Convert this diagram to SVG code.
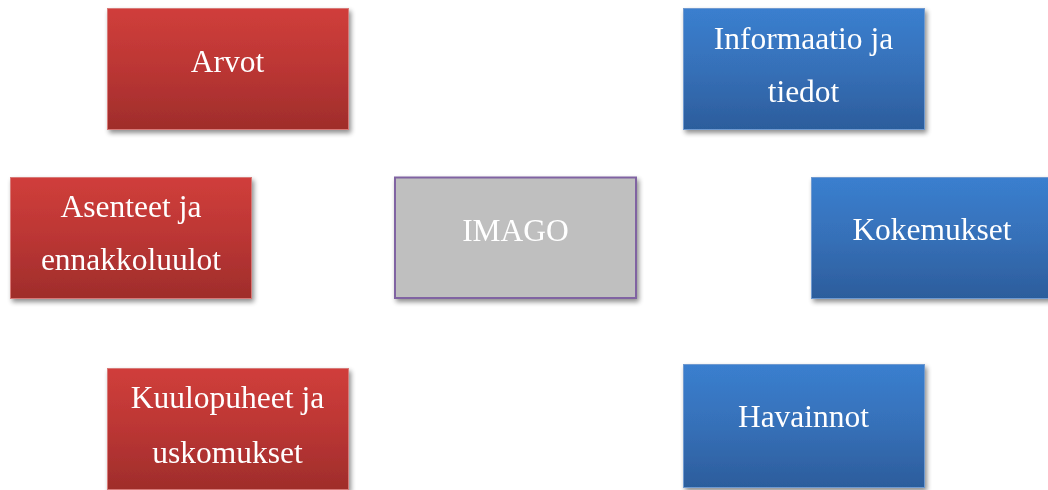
<svg xmlns="http://www.w3.org/2000/svg" width="1048" height="490" viewBox="0 0 1048 490">
  <defs>
    <linearGradient id="gRed" x1="0" y1="0" x2="0" y2="1">
      <stop offset="0" stop-color="#d03e3b"/>
      <stop offset="0.5" stop-color="#bb3634"/>
      <stop offset="1" stop-color="#9f2d2b"/>
    </linearGradient>
    <linearGradient id="gBlue" x1="0" y1="0" x2="0" y2="1">
      <stop offset="0" stop-color="#3a7fcf"/>
      <stop offset="0.5" stop-color="#3670b8"/>
      <stop offset="1" stop-color="#2c5d9c"/>
    </linearGradient>
    <filter id="shadow" x="-10%" y="-10%" width="125%" height="130%">
      <feGaussianBlur in="SourceAlpha" stdDeviation="2.5"/>
      <feOffset dx="2" dy="3" result="b"/>
      <feComponentTransfer><feFuncA type="linear" slope="0.45"/></feComponentTransfer>
      <feMerge><feMergeNode/><feMergeNode in="SourceGraphic"/></feMerge>
    </filter>
  </defs>
  <style>
    .red { fill: url(#gRed); stroke: #d77a78; stroke-width: 1; }
    .blue { fill: url(#gBlue); stroke: #6f9ad0; stroke-width: 1; }
    .core { fill: #bfbfbf; stroke: #8064a2; stroke-width: 2; }
    .lbl { font-family: "Liberation Serif", "Times New Roman", serif; font-size: 31.5px; fill: #ffffff; text-anchor: middle; }
  </style>
  <rect width="1048" height="490" fill="#ffffff"/>

  <g id="connectors"/>

  <g id="node-arvot" filter="url(#shadow)">
    <rect class="red" x="107.5" y="8.5" width="241" height="121"/>
    <text class="lbl" x="227.5" y="72">Arvot</text>
  </g>

  <g id="node-asenteet" filter="url(#shadow)">
    <rect class="red" x="10.5" y="177.5" width="241" height="121"/>
    <text class="lbl" x="131" y="217">Asenteet ja</text>
    <text class="lbl" x="131" y="270">ennakkoluulot</text>
  </g>

  <g id="node-kuulopuheet" filter="url(#shadow)">
    <rect class="red" x="107.5" y="368.5" width="241" height="121"/>
    <text class="lbl" x="227.5" y="408">Kuulopuheet ja</text>
    <text class="lbl" x="227.5" y="462.5">uskomukset</text>
  </g>

  <g id="node-imago" filter="url(#shadow)">
    <rect class="core" x="395" y="177.5" width="241" height="120.5"/>
    <text class="lbl" x="515.5" y="240.5">IMAGO</text>
  </g>

  <g id="node-informaatio" filter="url(#shadow)">
    <rect class="blue" x="683.5" y="8.5" width="241" height="121"/>
    <text class="lbl" x="803.5" y="49">Informaatio ja</text>
    <text class="lbl" x="803.5" y="102">tiedot</text>
  </g>

  <g id="node-kokemukset" filter="url(#shadow)">
    <rect class="blue" x="811.5" y="177.5" width="241" height="121"/>
    <text class="lbl" x="932" y="240">Kokemukset</text>
  </g>

  <g id="node-havainnot" filter="url(#shadow)">
    <rect class="blue" x="683.5" y="364.5" width="241" height="123"/>
    <text class="lbl" x="803.5" y="426.5">Havainnot</text>
  </g>
</svg>
